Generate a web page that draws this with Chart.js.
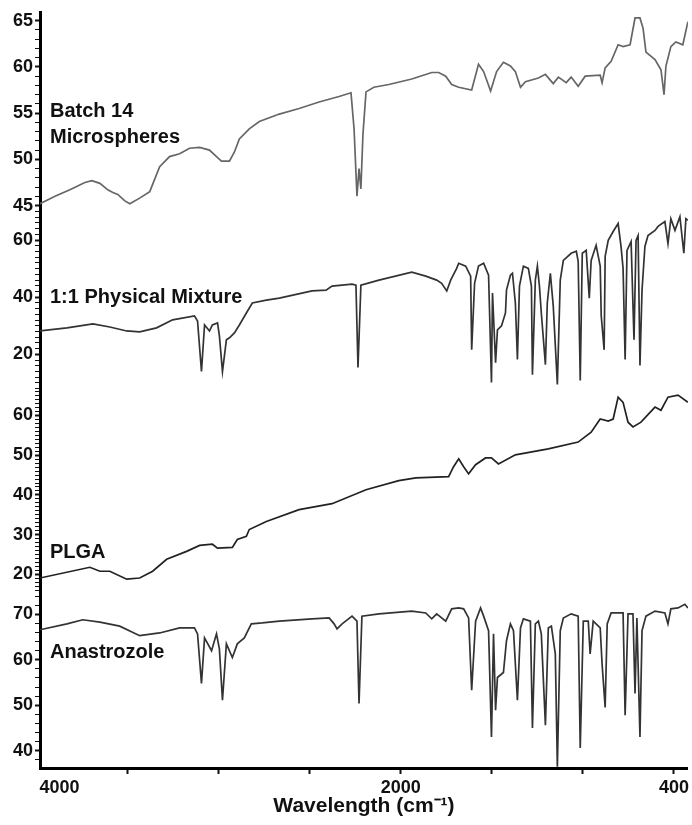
<!DOCTYPE html>
<html>
<head>
<meta charset="utf-8">
<title>FTIR spectra</title>
<script src="https://cdn.jsdelivr.net/npm/chart.js@4.4.1/dist/chart.umd.min.js"></script>
<style>
  html, body { margin: 0; padding: 0; background: #fff; }
  #wrap { width: 692px; height: 825px; position: relative; }
</style>
</head>
<body>
<div id="wrap"><canvas id="ftirChart"></canvas></div>
<script>
// Spectra: wavenumber (cm-1) and transmittance (%T) per sample
const batchWn = [4114, 4026, 3939, 3851, 3810, 3763, 3717, 3687, 3658, 3617,
    3588, 3530, 3471, 3413, 3355, 3296, 3238, 3179, 3121, 3080,
    3051, 3004, 2975, 2946, 2888, 2829, 2712, 2596, 2479, 2362,
    2292, 2274, 2257, 2245, 2234, 2222, 2204, 2158, 2070, 1936,
    1819, 1778, 1737, 1702, 1661, 1585, 1545, 1515, 1474, 1439,
    1399, 1358, 1329, 1299, 1270, 1194, 1153, 1107, 1077, 1031,
    1002, 961, 920, 832, 821, 803, 768, 727, 698, 657,
    628, 599, 581, 564, 511, 476, 458, 447, 418, 389,
    348, 318];
const batchT = [45.2, 46.0, 46.7, 47.5, 47.7, 47.4, 46.7, 46.4, 46.2, 45.5,
    45.2, 45.8, 46.5, 49.2, 50.3, 50.6, 51.2, 51.3, 51.0, 50.3,
    49.8, 49.8, 50.8, 52.2, 53.3, 54.1, 54.9, 55.5, 56.2, 56.8,
    57.2, 53.3, 46.0, 49.0, 46.8, 52.7, 57.3, 57.8, 58.1, 58.7,
    59.4, 59.4, 59.0, 58.1, 57.8, 57.5, 60.3, 59.5, 57.4, 59.5,
    60.5, 60.1, 59.5, 57.8, 58.4, 58.8, 59.2, 58.2, 58.9, 58.3,
    58.9, 57.9, 59.0, 59.1, 58.3, 59.9, 60.6, 62.4, 62.2, 62.4,
    65.3, 65.3, 64.2, 61.6, 60.8, 59.7, 57.0, 60.1, 62.2, 62.7,
    62.4, 64.9];

const mixWn = [4114, 3956, 3804, 3705, 3606, 3530, 3431, 3337, 3209, 3191,
    3168, 3150, 3121, 3104, 3074, 3063, 3045, 3022, 3004, 2975,
    2946, 2905, 2870, 2788, 2712, 2520, 2438, 2403, 2286, 2263,
    2251, 2234, 2128, 1936, 1854, 1790, 1761, 1731, 1708, 1673,
    1661, 1620, 1591, 1585, 1568, 1545, 1515, 1486, 1469, 1463,
    1445, 1434, 1410, 1387, 1381, 1358, 1346, 1329, 1317, 1305,
    1282, 1253, 1235, 1229, 1212, 1200, 1188, 1177, 1153, 1142,
    1124, 1107, 1083, 1066, 1048, 1002, 972, 961, 949, 937,
    914, 896, 885, 856, 832, 826, 809, 803, 785, 756,
    727, 710, 698, 686, 675, 651, 634, 622, 610, 599,
    587, 570, 552, 511, 493, 453, 435, 418, 394, 365,
    342, 330, 318];
const mixT = [28.2, 29.3, 30.7, 29.6, 28.2, 27.9, 29.3, 32.1, 33.5, 31.7,
    14.0, 30.3, 28.2, 30.3, 31.0, 26.5, 14.0, 25.1, 25.8, 27.5,
    30.3, 34.5, 38.0, 39.0, 39.7, 42.2, 42.5, 43.9, 44.6, 44.2,
    15.4, 44.2, 46.0, 48.8, 47.4, 46.0, 44.9, 42.2, 46.0, 50.1,
    51.9, 50.9, 47.4, 21.6, 44.9, 50.9, 51.9, 47.7, 10.2, 41.5,
    17.1, 28.6, 30.0, 34.5, 42.5, 47.7, 48.4, 38.0, 18.2, 43.9,
    50.9, 50.1, 43.9, 12.9, 46.0, 50.9, 43.9, 34.5, 16.4, 38.0,
    48.4, 36.9, 9.5, 46.0, 52.9, 55.4, 56.1, 52.6, 10.9, 55.4,
    56.4, 39.7, 52.9, 58.2, 50.9, 33.5, 21.6, 54.3, 59.9, 63.0,
    65.8, 57.8, 50.1, 18.2, 56.4, 59.5, 25.1, 59.9, 61.6, 16.1,
    42.5, 57.8, 61.6, 63.4, 64.8, 66.5, 58.8, 67.5, 63.4, 68.2,
    55.4, 67.5, 66.9];

const plgaWn = [4114, 3822, 3763, 3705, 3606, 3530, 3454, 3372, 3255, 3179,
    3104, 3074, 2987, 2958, 2905, 2888, 2788, 2596, 2403, 2204,
    2012, 1912, 1720, 1691, 1661, 1632, 1603, 1562, 1504, 1469,
    1428, 1329, 1136, 961, 885, 832, 785, 756, 727, 698,
    669, 640, 593, 511, 476, 435, 376, 318];
const plgaT = [19.1, 21.8, 20.8, 20.8, 18.8, 19.1, 20.8, 23.8, 25.8, 27.3,
    27.6, 26.6, 26.8, 28.8, 29.6, 31.3, 33.3, 36.3, 37.8, 41.3,
    43.6, 44.3, 44.6, 47.1, 49.1, 47.1, 45.3, 47.6, 49.3, 49.3,
    47.8, 50.1, 51.6, 53.3, 55.8, 59.1, 58.6, 59.1, 64.6, 63.3,
    58.3, 57.1, 58.3, 62.1, 61.3, 64.6, 65.1, 63.3];

const anaWn = [4114, 3956, 3863, 3763, 3647, 3530, 3413, 3296, 3209, 3191,
    3168, 3150, 3109, 3080, 3063, 3045, 3022, 2987, 2958, 2917,
    2876, 2812, 2712, 2520, 2420, 2391, 2374, 2344, 2286, 2257,
    2245, 2228, 2128, 1936, 1854, 1819, 1790, 1737, 1702, 1661,
    1632, 1603, 1585, 1562, 1533, 1515, 1486, 1469, 1457, 1445,
    1434, 1399, 1381, 1358, 1340, 1317, 1299, 1282, 1241, 1229,
    1212, 1194, 1177, 1153, 1136, 1118, 1095, 1083, 1066, 1048,
    1002, 961, 949, 931, 902, 891, 873, 832, 821, 803,
    791, 768, 698, 686, 669, 640, 628, 617, 599, 587,
    564, 511, 453, 435, 418, 376, 336, 318];
const anaT = [66.6, 67.9, 68.8, 68.3, 67.4, 65.3, 65.9, 67.0, 67.0, 65.7,
    54.8, 64.8, 62.0, 65.7, 62.4, 51.1, 63.5, 60.5, 63.5, 64.8,
    67.9, 68.1, 68.5, 69.0, 69.2, 67.9, 66.8, 67.9, 69.6, 68.5,
    50.4, 69.6, 70.1, 70.7, 70.3, 69.0, 70.1, 68.5, 71.2, 71.4,
    71.2, 69.2, 53.3, 68.5, 71.4, 69.6, 66.4, 43.0, 65.7, 48.9,
    56.1, 57.2, 64.2, 67.9, 66.4, 51.1, 67.0, 69.0, 68.5, 45.0,
    67.9, 68.5, 65.7, 45.6, 67.0, 67.4, 61.3, 36.5, 66.4, 69.2,
    70.1, 69.6, 40.6, 68.5, 68.5, 61.3, 68.5, 67.0, 59.1, 49.5,
    67.9, 70.3, 70.3, 47.8, 70.1, 70.1, 52.6, 69.2, 43.0, 66.4,
    69.6, 70.7, 70.3, 67.9, 71.2, 71.4, 72.2, 71.4];

// Axis ticks
const xTickMarks = [4000, 3600, 3067, 2533, 2000, 1467, 933, 400];
const xTickLabels = [4000, 2000, 400];
const batchTicks = [45, 50, 55, 60, 65];
const mixTicks = [20, 40, 60];
const plgaTicks = [20, 30, 40, 50, 60];
const anaTicks = [40, 50, 60, 70];

const FONT_FAMILY = '"Liberation Sans", Arial, Helvetica, sans-serif';

function toPoints(wn, t) {
    return wn.map((w, i) => ({ x: w, y: t[i] }));
}

// One panel of the stacked left axis
function panelAxis(cfg) {
    return {
        type: 'linear',
        position: 'left',
        stack: 'spectra',
        stackWeight: cfg.height,
        weight: cfg.order,
        min: cfg.min,
        max: cfg.max,
        border: { color: '#000', width: 3 },
        grid: {
            drawOnChartArea: false,
            tickLength: 5,
            tickColor: '#111',
            tickWidth: ctx => (ctx.tick && cfg.labels.includes(ctx.tick.value)) ? 2 : 1
        },
        ticks: {
            autoSkip: false,
            padding: 2,
            color: '#111',
            font: { family: FONT_FAMILY, size: 18, weight: 'bold' },
            callback: value => cfg.labels.includes(value) ? String(value) : ''
        },
        afterBuildTicks: scale => {
            const ticks = [];
            for (let v = Math.ceil(cfg.min / cfg.minor) * cfg.minor; v <= cfg.max; v += cfg.minor) {
                ticks.push({ value: v });
            }
            scale.ticks = ticks;
        },
        afterFit: scale => { scale.width = 40; }
    };
}

const captions = [
    { lines: ['Batch 14', 'Microspheres'], x: 50, y: 111 },
    { lines: ['1:1 Physical Mixture'], x: 50, y: 297 },
    { lines: ['PLGA'], x: 50, y: 552 },
    { lines: ['Anastrozole'], x: 50, y: 652 }
];

const captionPlugin = {
    id: 'captions',
    afterDraw(chart) {
        const ctx = chart.ctx;
        ctx.save();
        ctx.font = 'bold 20px ' + FONT_FAMILY;
        ctx.fillStyle = '#111';
        ctx.textBaseline = 'middle';
        ctx.textAlign = 'left';
        captions.forEach(c => {
            c.lines.forEach((line, i) => ctx.fillText(line, c.x, c.y + i * 26));
        });
        ctx.restore();
    }
};

function spectrum(label, wn, t, axisId, color) {
    return {
        label: label,
        data: toPoints(wn, t),
        xAxisID: 'x',
        yAxisID: axisId,
        borderColor: color,
        borderWidth: 1.7,
        pointRadius: 0,
        tension: 0,
        fill: false
    };
}

new Chart(document.getElementById('ftirChart'), {
    type: 'line',
    data: {
        datasets: [
            spectrum('Batch 14 Microspheres', batchWn, batchT, 'yBatch', '#666'),
            spectrum('1:1 Physical Mixture', mixWn, mixT, 'yMix', '#333'),
            spectrum('PLGA', plgaWn, plgaT, 'yPlga', '#222'),
            spectrum('Anastrozole', anaWn, anaT, 'yAna', '#333')
        ]
    },
    options: {
        responsive: true,
        maintainAspectRatio: false,
        animation: false,
        layout: { padding: { top: 8, right: 2, left: 0, bottom: 0 } },
        plugins: {
            legend: { display: false },
            tooltip: { enabled: false }
        },
        scales: {
            x: {
                type: 'linear',
                position: 'bottom',
                reverse: true,
                min: 318,
                max: 4114,
                border: { color: '#000', width: 3 },
                grid: {
                    drawOnChartArea: false,
                    tickLength: 6,
                    tickWidth: 2,
                    tickColor: ctx => (ctx.tick && ctx.tick.value === 4000) ? 'rgba(0,0,0,0)' : '#111'
                },
                ticks: {
                    autoSkip: false,
                    maxRotation: 0,
                    padding: 3,
                    color: '#111',
                    font: { family: FONT_FAMILY, size: 18, weight: 'bold' },
                    callback: value => xTickLabels.includes(value) ? String(value) : ''
                },
                afterBuildTicks: scale => {
                    scale.ticks = xTickMarks.map(v => ({ value: v }));
                },
                afterFit: scale => { scale.height = 57; },
                title: {
                    display: true,
                    text: 'Wavelength (cm\u207B\u00B9)',
                    color: '#111',
                    font: { family: FONT_FAMILY, size: 21, weight: 'bold' },
                    padding: { top: 0, bottom: 6 }
                }
            },
            yBatch: panelAxis({ height: 200, order: 4, min: 44.35, max: 65.86, minor: 1, labels: batchTicks }),
            yMix: panelAxis({ height: 180, order: 3, min: 7.4, max: 70, minor: 2, labels: mixTicks }),
            yPlga: panelAxis({ height: 202, order: 2, min: 15.8, max: 66.3, minor: 1, labels: plgaTicks }),
            yAna: panelAxis({ height: 178, order: 1, min: 36.2, max: 75.1, minor: 2, labels: anaTicks })
        }
    },
    plugins: [captionPlugin]
});
</script>
</body>
</html>
